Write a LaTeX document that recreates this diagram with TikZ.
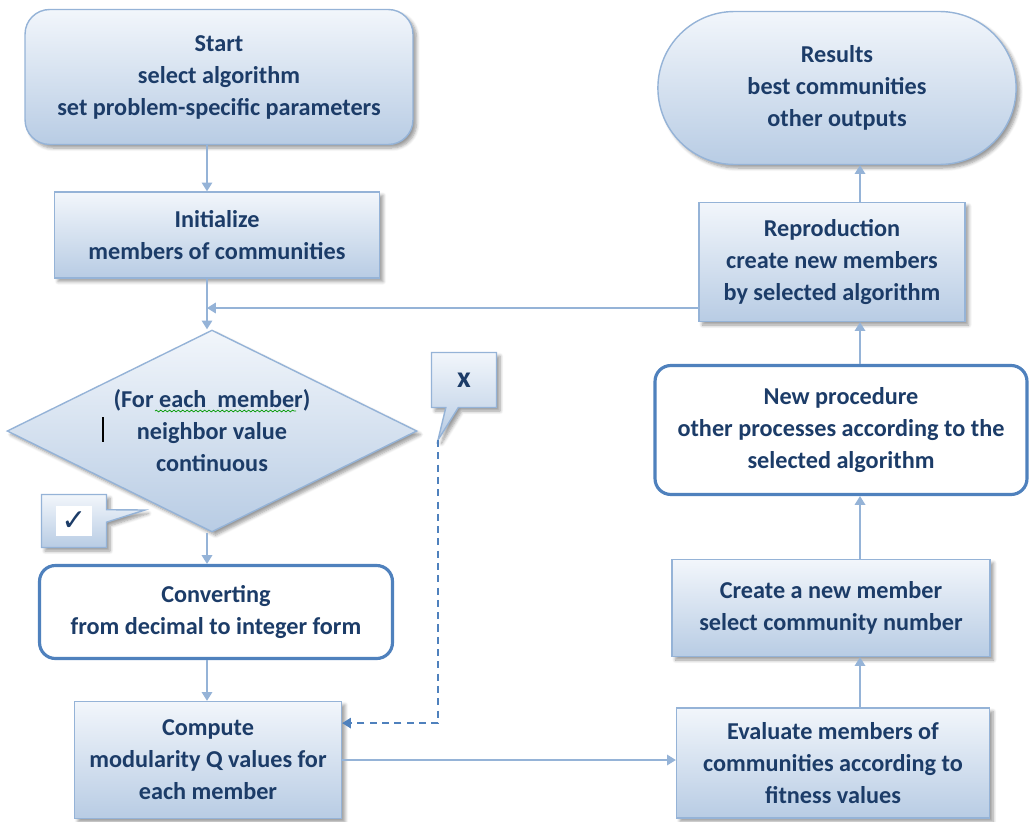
\documentclass[tikz,border=0pt]{standalone}
\usepackage{fontspec}
\setmainfont{Carlito}
\newfontfamily\symbfont{DejaVu Sans}
\usetikzlibrary{shapes.geometric,shapes.misc,shapes.callouts,arrows.meta,shadows.blur,decorations.pathmorphing}
\definecolor{boxline}{RGB}{149,179,215}
\definecolor{boxtop}{RGB}{242,246,251}
\definecolor{boxbot}{RGB}{184,204,228}
\definecolor{heavyline}{RGB}{79,129,189}
\definecolor{txt}{RGB}{28,60,104}

\begin{document}
\begin{tikzpicture}[x=0.02cm,y=-0.02cm,
    every node/.style={font=\fontsize{13.8}{18.2}\selectfont\bfseries, text=txt, align=center},
    flowbox/.style={rectangle, draw=boxline, line width=0.8pt, top color=boxtop, bottom color=boxbot,
        blur shadow={shadow xshift=2pt, shadow yshift=-2pt, shadow blur steps=6, shadow opacity=40}},
    heavybox/.style={rectangle, rounded corners=9pt, draw=heavyline, line width=1.8pt, fill=white},
    flow/.style={draw=boxline, line width=0.9pt, -{Triangle[width=6pt,length=5pt]}}]
    \useasboundingbox (0,0) rectangle (1030,821);
    \coordinate (left col) at (207,0);
    \coordinate (right col) at (860,0);
    \coordinate (merge) at (207,308);
    \coordinate (yes tip) at (145,510);
    \coordinate (no tip) at (438,440);

    % left column
    \node[flowbox, rounded corners=14pt, minimum width=7.76cm, minimum height=2.7cm] (start node) at (219,77)
        {Start\\ select algorithm\\ set problem-specific parameters};
    \node[flowbox, minimum width=6.5cm, minimum height=1.72cm] (init node) at (217,235)
        {Initialize\\ members of communities};
    \node[flowbox, diamond, aspect=2.03, inner sep=0pt, minimum width=8.2cm, minimum height=4.04cm] (test node) at (212,431)
        {(For each\ \ member)\\ neighbor value\\ continuous};
    \node[heavybox, minimum width=7.06cm, minimum height=1.86cm] (conv node) at (216,612)
        {Converting\\ from decimal to integer form};
    \node[flowbox, minimum width=5.34cm, minimum height=2.34cm] (comp node) at (208,760)
        {Compute\\ modularity Q values for\\ each member};

    % right column
    \node[flowbox, minimum width=6.26cm, minimum height=2.2cm] (eval node) at (833,763)
        {Evaluate members of\\ communities according to\\ fitness values};
    \node[flowbox, minimum width=6.36cm, minimum height=1.94cm] (create node) at (831,608)
        {Create a new member\\ select community number};
    \node[heavybox, minimum width=7.44cm, minimum height=2.58cm] (proc node) at (841,430)
        {New procedure\\ other processes according to the\\ selected algorithm};
    \node[flowbox, minimum width=5.32cm, minimum height=2.38cm] (repro node) at (832,262)
        {Reproduction\\ create new members\\ by selected algorithm};
    \node[flowbox, rounded rectangle, minimum width=7.4cm, minimum height=3.06cm] (result node) at (837,88)
        {Results\\ best communities\\ other outputs};

    % callouts
    \node[flowbox, rectangle callout, callout absolute pointer=(no tip), minimum width=1.3cm, minimum height=1.1cm,
        font=\fontsize{17}{18}\selectfont\bfseries] (no node) at (464,380) {x};
    \node[flowbox, rectangle callout, callout absolute pointer=(yes tip), minimum width=1.3cm, minimum height=1.06cm,
        inner sep=2pt] (yes node) at (74,521) {\setlength{\fboxsep}{3pt}\colorbox{white}{\fontsize{17}{18}\symbfont ✓}};

    % marks left in the text
    \draw[black, line width=1.4pt] (103,417) -- (103,442);
    \draw[green!60!black, line width=0.4pt, decorate, decoration={snake, amplitude=0.5pt, segment length=2.5pt}]
        (155,411) -- (296,411);

    \draw[flow] (start node.south -| left col) -- (init node.north -| left col);
    \draw[flow] (init node.south -| left col) -- (test node.north -| left col);
    \draw[flow] (test node.south -| left col) -- (conv node.north -| left col);
    \draw[flow] (conv node.south -| left col) -- (comp node.north -| left col);
    \draw[flow, draw=heavyline, dash pattern=on 4pt off 3pt] (no tip) |- ([yshift=21pt]comp node.east);
    \draw[flow] (comp node.east) -- (comp node.east -| eval node.west);
    \draw[flow] (eval node.north -| right col) -- (create node.south -| right col);
    \draw[flow] (create node.north -| right col) -- (proc node.south -| right col);
    \draw[flow] (proc node.north -| right col) -- (repro node.south -| right col);
    \draw[flow] (repro node.north -| right col) -- (result node.south -| right col);
    \draw[flow] (repro node.west |- merge) -- (merge);

\end{tikzpicture}
\end{document}
